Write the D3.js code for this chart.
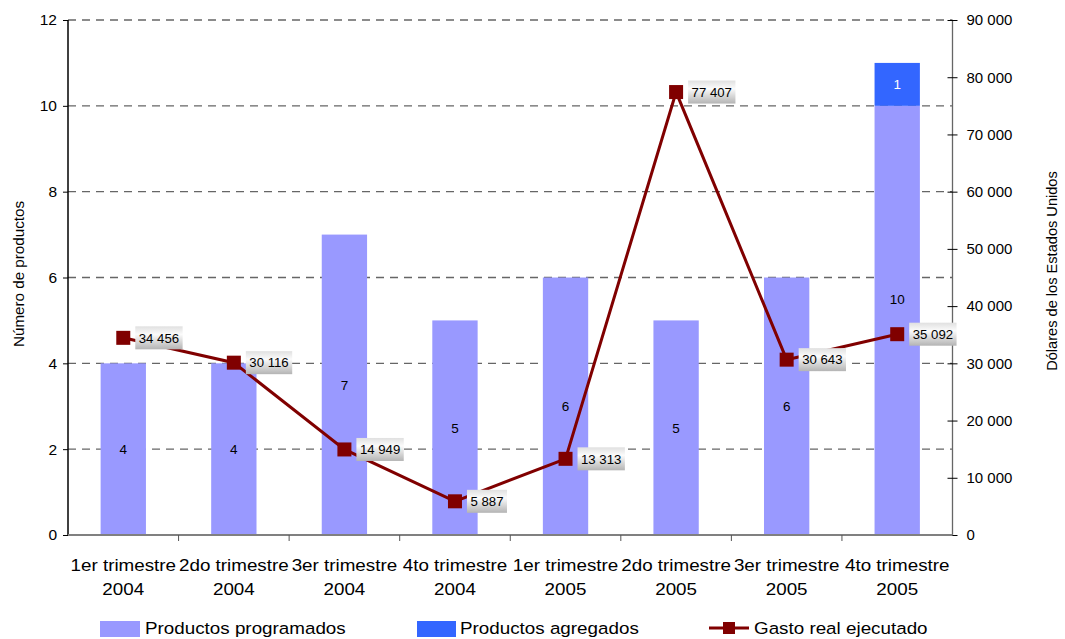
<!DOCTYPE html>
<html><head><meta charset="utf-8">
<script src="https://cdn.jsdelivr.net/npm/d3@7"></script>
<style>body{margin:0;background:#fff;}svg{display:block;font-family:"Liberation Sans",Arial,sans-serif;}</style>
</head><body>
<svg id="c" width="1065" height="639"></svg>
<script>
const quarters = ["1er trimestre","2do trimestre","3er trimestre","4to trimestre","1er trimestre","2do trimestre","3er trimestre","4to trimestre"];
const years = ["2004","2004","2004","2004","2005","2005","2005","2005"];
const programados = [4,4,7,5,6,5,6,10];
const agregados = [0,0,0,0,0,0,0,1];
const gasto = [34456,30116,14949,5887,13313,77407,30643,35092];
const leftTicks = [0,2,4,6,8,10,12];
const rightTicks = [0,10000,20000,30000,40000,50000,60000,70000,80000,90000];
const seriesNames = ["Productos programados","Productos agregados","Gasto real ejecutado"];

const categories = quarters.map((q,i)=>q+" "+years[i]);
const svg = d3.select("#c");
const L=68, R=952.5, T=20, B=535;
const x = d3.scaleBand().domain(categories).range([L,R]).paddingInner(0.59).paddingOuter(0.295);
const yL = d3.scaleLinear().domain([0,12]).range([B,T]);
const yR = d3.scaleLinear().domain([0,90000]).range([B,T]);
const loc = d3.formatLocale({decimal:",",thousands:" ",grouping:[3],currency:["",""]});
const fmt = loc.format(",.0f");
const COL_P="#9999FF", COL_A="#3366FF", COL_L="#800000";
const SX=1.12;
const FF="Liberation Sans, Arial, sans-serif";

// gradient for labels
const defs = svg.append("defs");
const g = defs.append("linearGradient").attr("id","lg").attr("x1",0).attr("y1",0).attr("x2",0).attr("y2",1);
g.append("stop").attr("offset","0%").attr("stop-color","#e0e0e0");
g.append("stop").attr("offset","35%").attr("stop-color","#fbfbfb");
g.append("stop").attr("offset","100%").attr("stop-color","#b4b4b4");

// gridlines
svg.append("g").selectAll("line").data(leftTicks.filter(d=>d>0)).join("line")
  .attr("x1",L).attr("x2",R).attr("y1",d=>yL(d)).attr("y2",d=>yL(d))
  .attr("stroke","#666").attr("stroke-width",1.4).attr("stroke-dasharray","8,6");

// bars
const bars = svg.append("g");
bars.selectAll("rect.p").data(categories).join("rect").attr("class","p")
  .attr("x",d=>x(d)).attr("width",x.bandwidth())
  .attr("y",(d,i)=>yL(programados[i])).attr("height",(d,i)=>yL(0)-yL(programados[i]))
  .attr("fill",COL_P);
bars.selectAll("rect.a").data(categories.filter((d,i)=>agregados[i]>0)).join("rect").attr("class","a")
  .attr("x",d=>x(d)).attr("width",x.bandwidth())
  .attr("y",d=>{const i=categories.indexOf(d);return yL(programados[i]+agregados[i]);})
  .attr("height",d=>{const i=categories.indexOf(d);return yL(programados[i])-yL(programados[i]+agregados[i]);})
  .attr("fill",COL_A);
// bar labels
bars.selectAll("text.p").data(categories).join("text").attr("class","p")
  .attr("x",d=>x(d)+x.bandwidth()/2)
  .attr("y",(d,i)=>yL((programados[i]+agregados[i])/2)+5)
  .attr("text-anchor","middle").attr("font-size",13.5).attr("fill","#000")
  .text((d,i)=>programados[i]);
bars.selectAll("text.a").data(categories.filter((d,i)=>agregados[i]>0)).join("text").attr("class","a")
  .attr("x",d=>x(d)+x.bandwidth()/2)
  .attr("y",d=>{const i=categories.indexOf(d);return yL(programados[i]+agregados[i]/2)+5;})
  .attr("text-anchor","middle").attr("font-size",13.5).attr("fill","#fff")
  .text(d=>agregados[categories.indexOf(d)]);

// axes
const axL = svg.append("g").attr("transform",`translate(${L},0)`)
  .call(d3.axisLeft(yL).tickValues(leftTicks).tickSize(5).tickPadding(6));
axL.select(".domain").attr("stroke","#000").attr("stroke-width",1.5).attr("d",`M0,${T}V${B}`);
axL.selectAll(".tick line").attr("stroke","#000");
axL.selectAll("text").attr("font-size",15.5).attr("fill","#000").attr("font-family",FF);

const axR = svg.append("g").attr("transform",`translate(${R},0)`)
  .call(d3.axisRight(yR).tickValues(rightTicks).tickFormat(fmt).tickSize(5).tickPadding(9));
axR.select(".domain").attr("stroke","#666").attr("stroke-width",1.3).attr("d",`M0,${T}V${B}`);
axR.selectAll(".tick line").attr("stroke","#000").attr("x1",-5);
axR.selectAll("text").attr("font-size",15).attr("fill","#000").attr("font-family",FF);

// bottom axis
const step = x.step();
svg.append("line").attr("x1",L).attr("x2",R).attr("y1",B).attr("y2",B).attr("stroke","#808080").attr("stroke-width",2);
svg.append("g").selectAll("line").data(d3.range(1,categories.length)).join("line")
  .attr("x1",d=>x(categories[d])-step*x.paddingInner()/2)
  .attr("x2",d=>x(categories[d])-step*x.paddingInner()/2)
  .attr("y1",B).attr("y2",B+6).attr("stroke","#555").attr("stroke-width",1);

// x labels
const xl = svg.append("g").selectAll("g").data(categories).join("g")
  .attr("transform",d=>`translate(${x(d)+x.bandwidth()/2},0) scale(${SX},1)`);
xl.append("text").attr("y",571).attr("text-anchor","middle").attr("font-size",16.8).text((d,i)=>quarters[i]);
xl.append("text").attr("y",595).attr("text-anchor","middle").attr("font-size",16.8).text((d,i)=>years[i]);

// axis titles
svg.append("text").attr("transform",`translate(24,${274}) rotate(-90)`).attr("text-anchor","middle")
  .attr("font-size",15.2).text("Número de productos");
svg.append("text").attr("transform",`translate(1057,${271}) rotate(-90)`).attr("text-anchor","middle")
  .attr("font-size",14.6).text("Dólares de los Estados Unidos");

// line
const cx = d=>x(d)+x.bandwidth()/2;
const line = d3.line().x((d,i)=>cx(categories[i])).y(d=>yR(d));
svg.append("path").datum(gasto).attr("d",line).attr("fill","none").attr("stroke",COL_L).attr("stroke-width",3);
svg.append("g").selectAll("rect").data(gasto).join("rect")
  .attr("x",(d,i)=>cx(categories[i])-7).attr("y",d=>yR(d)-7).attr("width",14).attr("height",14).attr("fill",COL_L);

// data labels
const dl = svg.append("g").selectAll("g").data(gasto).join("g")
  .attr("transform",(d,i)=>`translate(${cx(categories[i])+12},${yR(d)})`);
const rects = dl.append("rect").attr("y",-11.5).attr("height",23).attr("fill","url(#lg)");
const texts = dl.append("text").attr("x",3.5).attr("y",4.8).attr("font-size",13.2).attr("fill","#000").text(d=>fmt(d));
texts.each(function(d,i){ const w=this.getComputedTextLength(); d3.select(rects.nodes()[i]).attr("width",w+7); });

// legend
const lg = svg.append("g");
const legY = 621;
lg.append("rect").attr("x",100).attr("y",legY).attr("width",40).attr("height",16).attr("fill",COL_P);
lg.append("rect").attr("x",417).attr("y",legY).attr("width",39).attr("height",16).attr("fill",COL_A);
lg.append("line").attr("x1",709).attr("x2",749).attr("y1",628).attr("y2",628).attr("stroke",COL_L).attr("stroke-width",3);
lg.append("rect").attr("x",723).attr("y",622).attr("width",12).attr("height",12).attr("fill",COL_L);
[[145,seriesNames[0]],[460,seriesNames[1]],[754,seriesNames[2]]].forEach(([lx,t])=>{
  lg.append("text").attr("transform",`translate(${lx},634) scale(${SX},1)`).attr("font-size",16.8).text(t);
});
</script>
</body></html>
